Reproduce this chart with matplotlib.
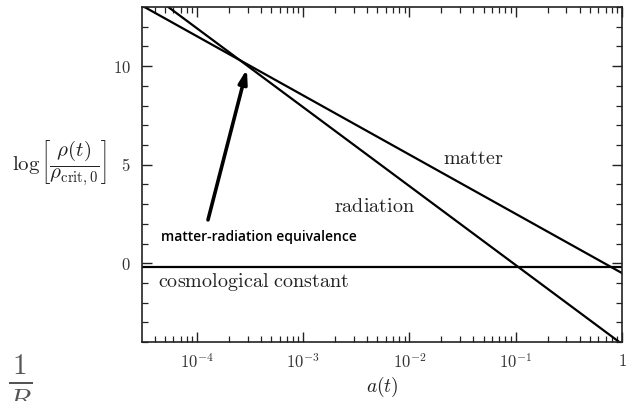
import numpy as np
import matplotlib
matplotlib.use("Agg")
import matplotlib.pyplot as plt
from matplotlib.ticker import LogLocator, MultipleLocator, FuncFormatter, NullFormatter

plt.rcParams['mathtext.fontset'] = 'cm'
plt.rcParams['font.family'] = 'serif'
plt.rcParams['font.serif'] = ['DejaVu Serif']

# scale factor at the ends of the plotted range
a_ends = [3.04e-5, 1.0]
# log of density / critical density at those ends
matter = [13.07, -0.5]
radiation = [13.99, -4.1]
lam = [-0.2, -0.2]

fig = plt.figure(figsize=(6.27, 4.01), dpi=100)
ax = fig.add_axes([0.2265, 0.147, 0.7655, 0.8355])

ax.plot(a_ends, matter, color='black', lw=1.6)
ax.plot(a_ends, radiation, color='black', lw=1.6)
ax.plot(a_ends, lam, color='black', lw=1.6)

ax.set_xscale('log')
ax.set_xlim(a_ends[0], 1.0)
ax.set_ylim(-4, 13)

ax.xaxis.set_major_locator(LogLocator(base=10, numticks=10))
ax.xaxis.set_minor_locator(LogLocator(base=10, subs=np.arange(2, 10), numticks=20))
ax.xaxis.set_minor_formatter(NullFormatter())

def xfmt(v, pos):
    e = int(round(np.log10(v)))
    if e == 0:
        return r'$1$'
    return r'$10^{%d}$' % e
ax.xaxis.set_major_formatter(FuncFormatter(xfmt))

ax.yaxis.set_major_locator(MultipleLocator(5))
ax.yaxis.set_minor_locator(MultipleLocator(1))
ax.yaxis.set_major_formatter(FuncFormatter(lambda v, p: r'$%d$' % v))

ax.tick_params(which='both', direction='in', top=True, right=True, labelsize=12,
               color='#222222', labelcolor='#333333')
ax.tick_params(which='major', length=7, width=1.0, pad=8)
ax.tick_params(which='minor', length=4, width=0.9)
for s in ax.spines.values():
    s.set_linewidth(1.2)
    s.set_color('#222222')

ax.set_xlabel(r'$a(t)$', fontsize=14, labelpad=2, color='#222222')
ax.set_ylabel(r'$\log\left[\dfrac{\rho(t)}{\rho_{\mathrm{crit},0}}\right]$',
              fontsize=15, rotation=0, va='center', color='#222222')
ax.yaxis.set_label_coords(-0.172, 0.535)

ax.text(4.0e-2, 5.3, r'$\mathrm{matter}$', fontsize=14.5, color='#222222', ha='center', va='center')
ax.text(4.7e-3, 2.9, r'$\mathrm{radiation}$', fontsize=14.5, color='#222222', ha='center', va='center')
ax.text(4.3e-5, -0.95, r'$\mathrm{cosmological\ constant}$', fontsize=14.5, color='#222222',
        ha='left', va='center')
ax.text(4.6e-5, 1.35, 'matter-radiation equivalence', fontsize=10, family='Open Sans',
        weight='semibold', color='black', ha='left', va='center')
ax.annotate('', xy=(2.95e-4, 9.85), xytext=(1.27e-4, 2.2),
            arrowprops=dict(arrowstyle='-|>,head_length=0.8,head_width=0.25', lw=2.6, color='black',
                            shrinkA=0, shrinkB=0))

fig.text(0.012, 0.045, r'$\frac{1}{R}$', fontsize=30, color='#555555', ha='left', va='center')

fig.savefig('out.png', dpi=100)
